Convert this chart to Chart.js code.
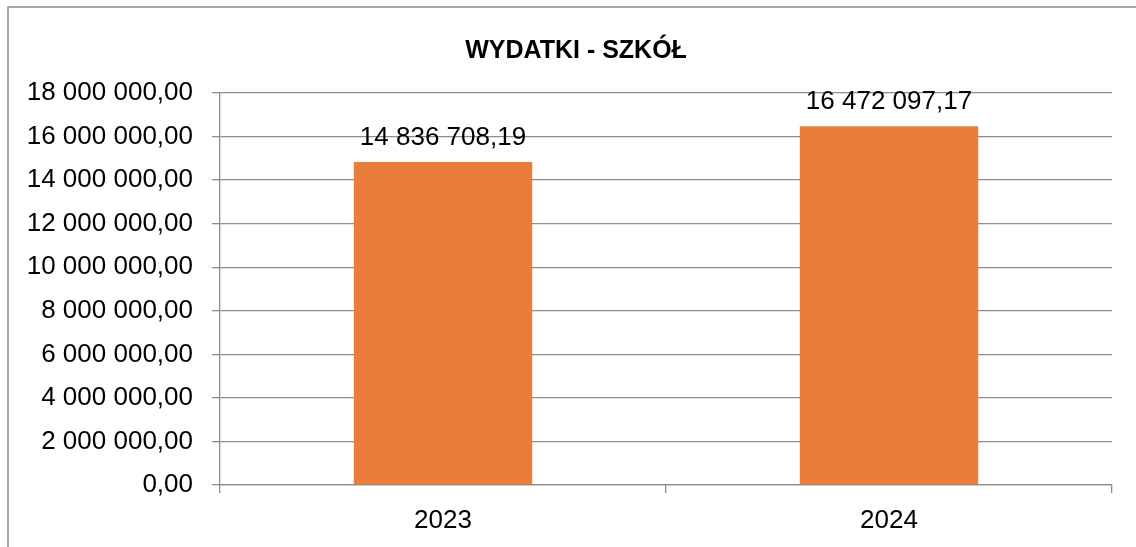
<!DOCTYPE html>
<html>
<head>
<meta charset="utf-8">
<script src="https://cdn.jsdelivr.net/npm/chart.js@4"></script>
<style>
  html, body { margin: 0; padding: 0; background: #fff; }
  canvas { display: block; }
</style>
</head>
<body>
<canvas id="expensesChart" width="1136" height="547"></canvas>
<script>
// Chart data
const years = ['2023', '2024'];
const expenses = [14836708.19, 16472097.17];
const yMin = 0;
const yMax = 18000000;
const yStep = 2000000;
const chartTitle = 'WYDATKI - SZKÓŁ';

const FONT = '"Liberation Sans", Arial, sans-serif';
const GRID = '#8c8c8c';

// Polish style: "16 472 097,17"
function formatPL(value) {
  const parts = Math.abs(value).toFixed(2).split('.');
  const intPart = parts[0].replace(/\B(?=(\d{3})+(?!\d))/g, ' ');
  return (value < 0 ? '-' : '') + intPart + ',' + parts[1];
}

// White page, thin frame and the title centred on the frame (not on the plot)
const framePlugin = {
  id: 'frame',
  beforeDraw(chart) {
    const ctx = chart.ctx;
    ctx.save();
    ctx.fillStyle = '#fff';
    ctx.fillRect(0, 0, chart.width, chart.height);
    ctx.strokeStyle = '#8a8a8a';
    ctx.lineWidth = 1.5;
    ctx.strokeRect(8, 7, chart.width + 20, chart.height + 20);

    ctx.font = 'bold 25px ' + FONT;
    ctx.fillStyle = '#000';
    ctx.textAlign = 'center';
    ctx.textBaseline = 'middle';
    ctx.fillText(chartTitle, 576, 51);
    ctx.restore();
  }
};

// Value labels above bars
const valueLabels = {
  id: 'valueLabels',
  afterDatasetsDraw(chart) {
    const ctx = chart.ctx;
    const meta = chart.getDatasetMeta(0);
    ctx.save();
    ctx.font = '26px ' + FONT;
    ctx.fillStyle = '#000';
    ctx.textAlign = 'center';
    ctx.textBaseline = 'middle';
    meta.data.forEach((bar, i) => {
      ctx.fillText(formatPL(expenses[i]), bar.x, bar.y - 24);
    });
    ctx.restore();
  }
};

new Chart(document.getElementById('expensesChart'), {
  type: 'bar',
  data: {
    labels: years,
    datasets: [{
      label: chartTitle,
      data: expenses,
      backgroundColor: '#E97E3A',
      barPercentage: 0.4,
      categoryPercentage: 1
    }]
  },
  options: {
    responsive: false,
    animation: false,
    devicePixelRatio: 1,
    layout: { padding: { left: 0, right: 24, top: 93, bottom: 0 } },
    plugins: {
      legend: { display: false },
      tooltip: { enabled: false },
      title: { display: false }
    },
    scales: {
      x: {
        grid: { drawOnChartArea: false, color: GRID, lineWidth: 1.3, tickLength: 8 },
        border: { color: GRID, width: 1.3 },
        ticks: { color: '#000', font: { family: FONT, size: 26 }, padding: 12 },
        afterFit(scale) { scale.height = 62; }
      },
      y: {
        min: yMin,
        max: yMax,
        grid: { color: GRID, lineWidth: 1.3, tickLength: 8 },
        border: { color: GRID, width: 1.3 },
        ticks: {
          stepSize: yStep,
          color: '#000',
          font: { family: FONT, size: 26 },
          padding: 19,
          callback: v => formatPL(v)
        },
        afterFit(scale) { scale.width = 220; }
      }
    }
  },
  plugins: [framePlugin, valueLabels]
});
</script>
</body>
</html>
